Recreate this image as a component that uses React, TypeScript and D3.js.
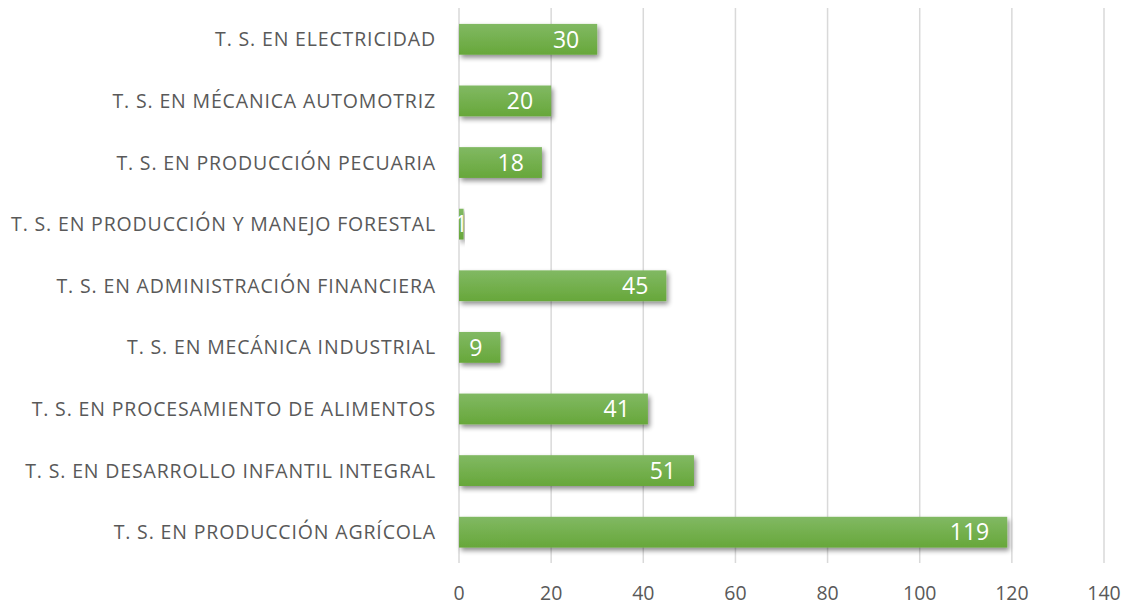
import React from 'react';
import * as d3 from 'd3';

const categories = [
  'T. S. EN ELECTRICIDAD',
  'T. S. EN MÉCANICA AUTOMOTRIZ',
  'T. S. EN PRODUCCIÓN PECUARIA',
  'T. S. EN PRODUCCIÓN Y MANEJO FORESTAL',
  'T. S. EN ADMINISTRACIÓN FINANCIERA',
  'T. S. EN MECÁNICA INDUSTRIAL',
  'T. S. EN PROCESAMIENTO DE ALIMENTOS',
  'T. S. EN DESARROLLO INFANTIL INTEGRAL',
  'T. S. EN PRODUCCIÓN AGRÍCOLA',
];
const values = [30, 20, 18, 1, 45, 9, 41, 51, 119];
const xTicks = [0, 20, 40, 60, 80, 100, 120, 140];

const width = 1127;
const height = 608;
const font = "'Open Sans', 'Liberation Sans', sans-serif";

const App = () => {
  const x = d3.scaleLinear().domain([0, 140]).range([459, 1104]);
  const y = d3.scaleBand().domain(categories).range([8.5, 563]).paddingInner(0.5).paddingOuter(0.25);
  const top = 8;
  const bottom = 563;

  return (
    <svg width={width} height={height} style={{ position: 'absolute', left: 0, top: 0 }} fontFamily={font}>
      <defs>
        <linearGradient id="barFill" x1="0" y1="0" x2="0" y2="1">
          <stop offset="0%" stopColor="#81b963" />
          <stop offset="100%" stopColor="#67a73a" />
        </linearGradient>
        <filter id="shadow" x="-10%" y="-30%" width="130%" height="190%">
          <feGaussianBlur in="SourceAlpha" stdDeviation="2.5" />
          <feOffset dx="2" dy="3" result="b" />
          <feComponentTransfer><feFuncA type="linear" slope="0.45" /></feComponentTransfer>
          <feMerge><feMergeNode /><feMergeNode in="SourceGraphic" /></feMerge>
        </filter>
      </defs>
      {xTicks.map((t) => (
        <g key={t}>
          <line x1={x(t)} x2={x(t)} y1={top} y2={bottom} stroke="#d9d9d9" strokeWidth={1.5} />
          <text x={x(t)} y={600} textAnchor="middle" fontSize={19.5} fill="#595959">{t}</text>
        </g>
      ))}
      {categories.map((c, i) => {
        const cy = (y(c) as number) + y.bandwidth() / 2;
        const bw = x(values[i]) - x(0);
        const small = bw < 30;
        return (
          <g key={c}>
            <text x={436} y={cy} dy="0.36em" textAnchor="end" fontSize={19.5} letterSpacing={0.85} fill="#595959">{c}</text>
            <rect x={x(0)} y={y(c)} width={bw} height={y.bandwidth()} fill="url(#barFill)" filter="url(#shadow)" />
            <text
              x={small ? x(0) + bw / 2 : x(values[i]) - 18}
              y={cy}
              dy="0.36em"
              textAnchor={small ? 'middle' : 'end'}
              fontSize={23}
              fill="#ffffff"
            >
              {values[i]}
            </text>
          </g>
        );
      })}
    </svg>
  );
};

export default App;
